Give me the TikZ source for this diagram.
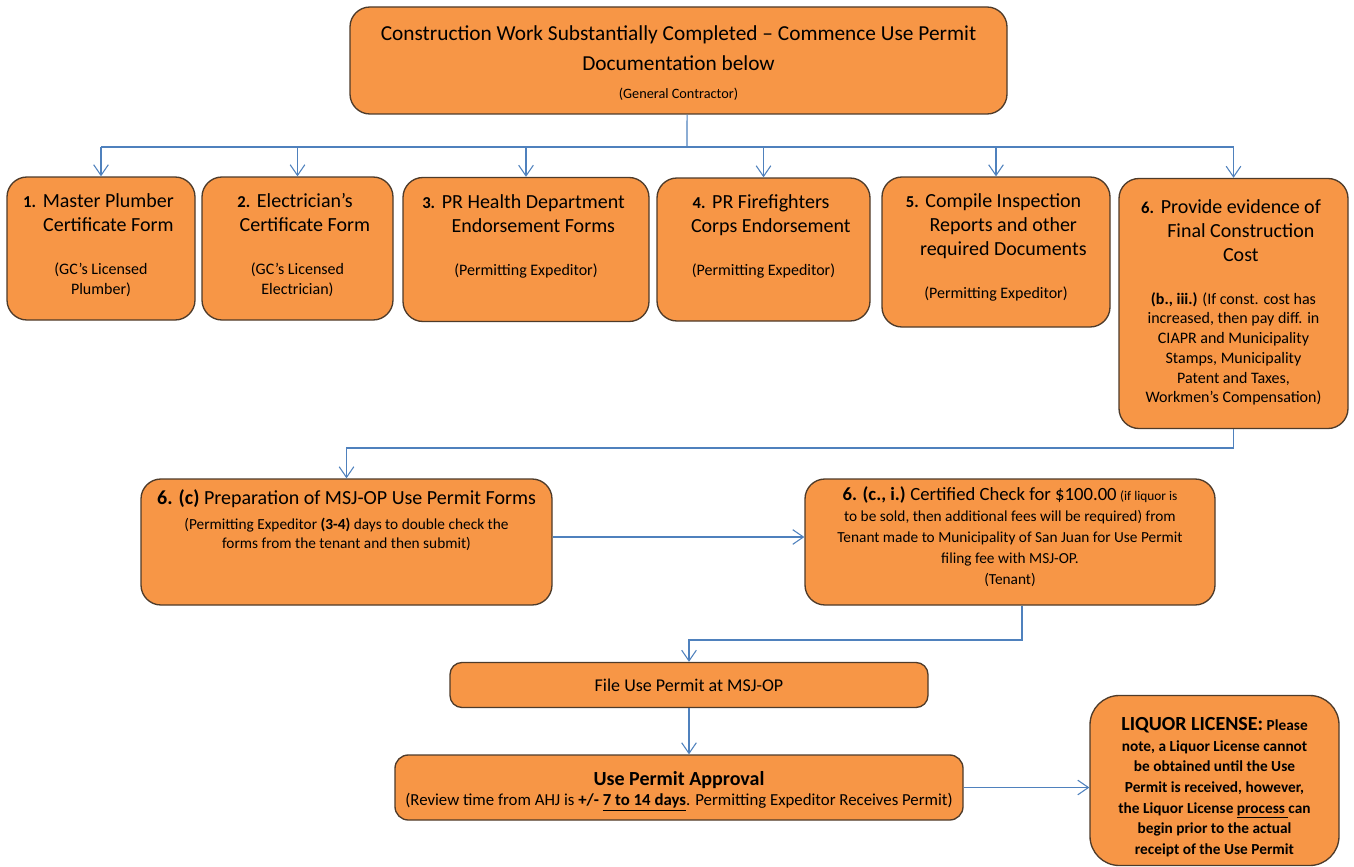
\documentclass[tikz,border=0pt]{standalone}
\usepackage{fontspec}
\setmainfont{Carlito}
\usetikzlibrary{arrows.meta}

\definecolor{boxfill}{HTML}{F79646}
\definecolor{boxline}{HTML}{4E3B2A}
\definecolor{linkblue}{HTML}{4F81BD}

\newcommand{\head}{\fontsize{15}{18}\selectfont}
\newcommand{\sub}{\fontsize{12}{14.8}\selectfont}
\newcommand{\subs}{\fontsize{11.5}{14.3}\selectfont}
\newcommand{\numhead}[2]{{\head\leftskip=11pt plus 1fil\rightskip=0pt plus 1fil\parfillskip=0pt\relax
  \leavevmode\llap{{\fontsize{12.5}{14}\selectfont\bfseries #1}\hspace{5pt}}#2\par}}
\newcommand{\boxtext}[4]{\parbox[c][#2][t]{#1}{\centering\vspace*{#3}#4\par}}

\begin{document}
\begin{tikzpicture}[x=0.75pt,y=-0.75pt,
  box/.style={draw=boxline, fill=boxfill, line width=1pt, rounded corners=15pt, inner sep=0pt},
  link/.style={draw=linkblue, line width=0.8pt},
  arr/.style={link, -{Straight Barb[length=8pt,width=11pt]}}]
\useasboundingbox (0,0) rectangle (1354,867);

% start
\node[box] (top) at (678.5,60.5) {\boxtext{492.75pt}{80.25pt}{14pt}{\fontsize{16}{22.5}\selectfont Construction Work Substantially Completed – Commence Use Permit\\Documentation below\\[-1.5pt]{\fontsize{10.7}{13}\selectfont (General Contractor)}}};

% the six documents
\node[box] (b1) at (101,248.5) {\boxtext{141pt}{107.25pt}{12.5pt}{\numhead{1.}{Master Plumber\\Certificate Form}\vspace{17.5pt}\sub (GC’s Licensed\\Plumber)}};
\node[box] (b2) at (297.5,248.5) {\boxtext{143.25pt}{107.25pt}{12.5pt}{\numhead{2.}{Electrician’s\\Certificate Form}\vspace{17.5pt}\sub (GC’s Licensed\\Electrician)}};
\node[box] (b3) at (526,249.5) {\boxtext{184.5pt}{108pt}{12.5pt}{\numhead{3.}{PR Health Department\\Endorsement Forms}\vspace{17.5pt}\sub (Permitting Expeditor)}};
\node[box] (b4) at (763.5,249.5) {\boxtext{159.75pt}{107.25pt}{12.5pt}{\numhead{4.}{PR Firefighters\\Corps Endorsement}\vspace{17.5pt}\sub (Permitting Expeditor)}};
\node[box] (b5) at (996,252) {\boxtext{171pt}{112.5pt}{12.5pt}{\numhead{5.}{Compile Inspection\\Reports and other\\required Documents}\vspace{17.5pt}\sub (Permitting Expeditor)}};
\node[box] (b6) at (1233.5,303.5) {\boxtext{171.75pt}{187.5pt}{15.5pt}{\numhead{6.}{Provide evidence of\\Final Construction\\Cost}\vspace{17.5pt}\sub {\bfseries (b., iii.)} (If const. cost has\\increased, then pay diff. in\\CIAPR and  Municipality\\Stamps, Municipality\\Patent and Taxes,\\Workmen’s Compensation)}};

% forms and fee
\node[box] (c6) at (346.5,542) {\boxtext{308.25pt}{94.5pt}{7.75pt}{\head{\bfseries 6. (c)} Preparation of MSJ-OP Use Permit Forms\par\vspace{4.75pt}\subs (Permitting Expeditor {\bfseries (3-4)} days to double check the\\forms from the tenant and then submit)}};
\node[box] (ci6) at (1010,542) {\boxtext{307.5pt}{94.5pt}{6pt}{\subs\baselineskip=15.75pt {\fontsize{14}{16}\selectfont\bfseries 6. (c., i.)} {\fontsize{14}{16}\selectfont Certified Check for \$100.00} {\fontsize{10}{12}\selectfont (if liquor is}\\to be sold, then additional fees will be required) from\\Tenant made to Municipality of San Juan for Use Permit\\filing fee with MSJ-OP.\\(Tenant)}};

% filing and approval
\node[box, rounded corners=9pt, minimum width=358.5pt, minimum height=33.75pt] (file) at (689,685) {\fontsize{13.5}{16}\selectfont File Use Permit at MSJ-OP};
\node[box, rounded corners=10pt] (appr) at (679,787.5) {\boxtext{426pt}{48.75pt}{12pt}{{\head\bfseries Use Permit Approval}\\\fontsize{12.6}{15.5}\selectfont (Review time from AHJ is {\bfseries +/- \underline{7 to 14 days}}. Permitting Expeditor Receives Permit)}};
\node[box, rounded corners=22pt] (liq) at (1214.5,780.5) {\boxtext{186.75pt}{127.5pt}{16.5pt}{\subs\bfseries\baselineskip=15.5pt {\head LIQUOR LICENSE:} Please\\note, a Liquor License cannot\\be obtained until the Use\\Permit is received, however,\\the Liquor License \underline{process }can\\begin prior to the actual\\receipt of the Use Permit}};

% connectors
\coordinate (bus) at (687,147);
\coordinate (j1) at (0,448);
\coordinate (j2) at (0,640);
\draw[link] ([xshift=6.4pt]top.south) -- (bus);
\draw[link] (bus -| b1.north) -- (bus -| b6.north);
\foreach \b in {b1,b2,b3,b4,b5,b6}
  \draw[arr] (bus -| \b.north) -- (\b.north);
\draw[arr] (b6.south) -- (b6.south |- j1) -| (c6.north);
\draw[arr] ([yshift=3.75pt]c6.east) -- ([yshift=3.75pt]ci6.west);
\draw[arr] ([xshift=9pt]ci6.south) -- ([xshift=9pt]ci6.south |- j2) -| (file.north);
\draw[arr] (file.south) -- (file.south |- appr.north);
\draw[arr] (appr.east) -- (appr.east -| liq.west);

\end{tikzpicture}
\end{document}
